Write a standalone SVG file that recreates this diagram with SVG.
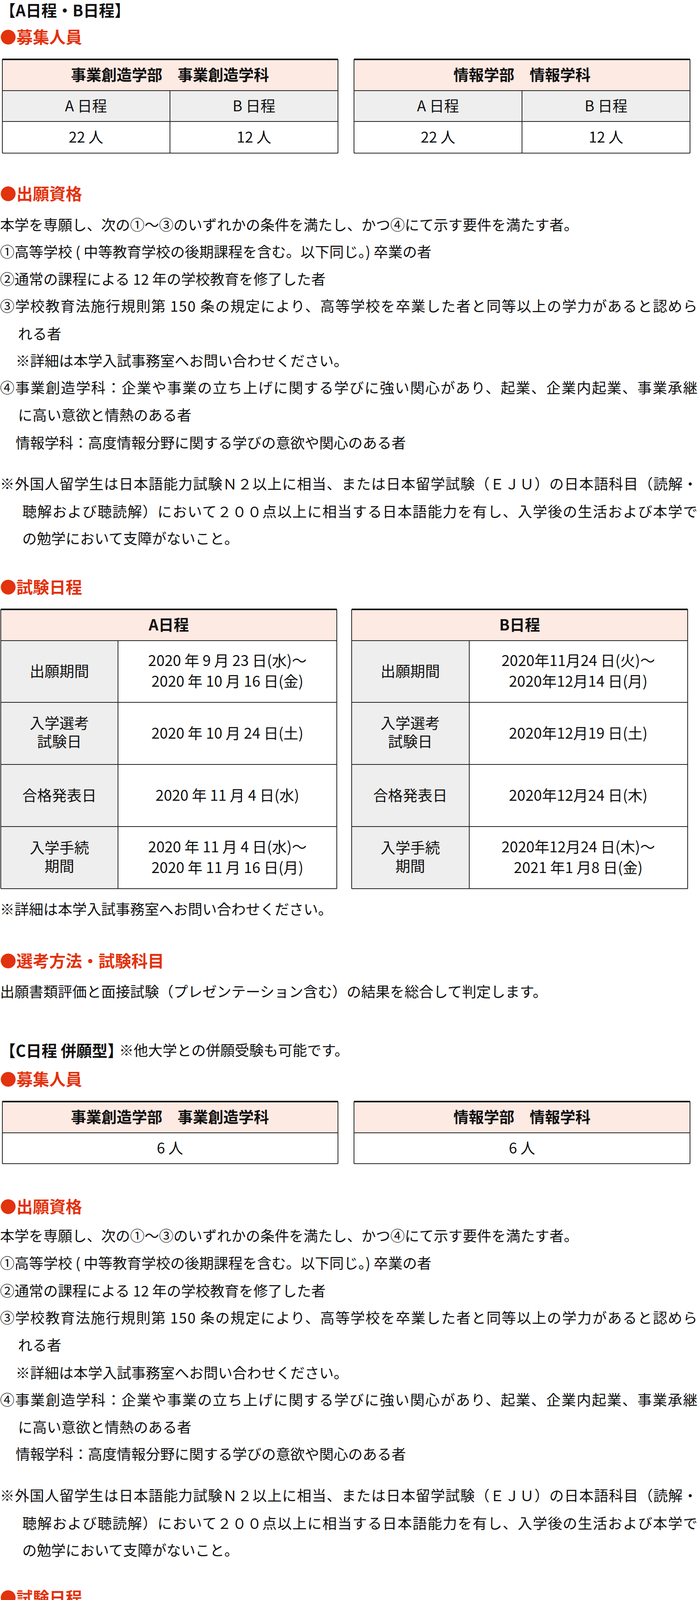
<svg xmlns="http://www.w3.org/2000/svg" width="1789" height="5073" viewBox="0 0 1789 5073">
<style>
text{font-family:"Noto Sans CJK JP","Noto Sans",sans-serif;fill:#111}
.t{font-size:37px}
.h{font-size:42px;font-weight:bold;fill:#E2320E}
.ti{font-size:40px;font-weight:bold}
.th{font-size:39px;font-weight:bold;text-anchor:middle}
.td{font-size:38px;text-anchor:middle}
.pk{fill:#FDEAE3}
.gr{fill:#EEEEEE}
.wh{fill:#FFFFFF}
.ln{stroke:#222;stroke-width:2;fill:none}
.tk{stroke:#111;stroke-width:4;fill:none}
</style>
<rect width="1789" height="5073" fill="#fff"/>

<g id="sectionAB-title"><text class="ti" x="0" y="42">【A日程・B日程】</text></g>

<g id="recruit-AB">
<text class="h" x="0" y="111">●募集人員</text>
<g id="tbl-biz">
<rect class="pk" x="6" y="152" width="859" height="80"/>
<rect class="gr" x="6" y="232" width="859" height="79"/>
<rect class="wh" x="6" y="311" width="859" height="81"/>
<path class="ln" d="M6 152V392M865 152V392M6 232H865M6 311H865M435 232V392M6 392H865"/>
<path class="tk" d="M6 152H865"/>
<text class="th" x="435" y="206">事業創造学部　事業創造学科</text>
<text class="td" x="220" y="285">A 日程</text><text class="td" x="650" y="285">B 日程</text>
<text class="td" x="220" y="365">22 人</text><text class="td" x="650" y="365">12 人</text>
</g>
<g id="tbl-info">
<rect class="pk" x="906" y="152" width="860" height="80"/>
<rect class="gr" x="906" y="232" width="860" height="79"/>
<rect class="wh" x="906" y="311" width="860" height="81"/>
<path class="ln" d="M906 152V392M1766 152V392M906 232H1766M906 311H1766M1336 232V392M906 392H1766"/>
<path class="tk" d="M906 152H1766"/>
<text class="th" x="1336" y="206">情報学部　情報学科</text>
<text class="td" x="1121" y="285">A 日程</text><text class="td" x="1551" y="285">B 日程</text>
<text class="td" x="1121" y="365">22 人</text><text class="td" x="1551" y="365">12 人</text>
</g>
</g>

<g id="qual-AB">
<text class="h" x="0" y="512">●出願資格</text>
<text class="t" x="0" y="590">本学を専願し、次の①～③のいずれかの条件を満たし、かつ④にて示す要件を満たす者。</text>
<text class="t" x="0" y="659">①高等学校 ( 中等教育学校の後期課程を含む。以下同じ。) 卒業の者</text>
<text class="t" x="0" y="729">②通常の課程による 12 年の学校教育を修了した者</text>
<text class="t" x="0" y="798" textLength="1785" lengthAdjust="spacing">③学校教育法施行規則第 150 条の規定により、高等学校を卒業した者と同等以上の学力があると認めら</text>
<text class="t" x="46" y="869">れる者</text>
<text class="t" x="40" y="938">※詳細は本学入試事務室へお問い合わせください。</text>
<text class="t" x="0" y="1007" textLength="1785" lengthAdjust="spacing">④事業創造学科：企業や事業の立ち上げに関する学びに強い関心があり、起業、企業内起業、事業承継</text>
<text class="t" x="46" y="1077">に高い意欲と情熱のある者</text>
<text class="t" x="40" y="1148">情報学科：高度情報分野に関する学びの意欲や関心のある者</text>
<text class="t" x="0" y="1253" textLength="1785" lengthAdjust="spacing">※外国人留学生は日本語能力試験Ｎ２以上に相当、または日本留学試験（ＥＪＵ）の日本語科目（読解・</text>
<text class="t" x="57" y="1324" textLength="1728" lengthAdjust="spacing">聴解および聴読解）において２００点以上に相当する日本語能力を有し、入学後の生活および本学で</text>
<text class="t" x="57" y="1393">の勉学において支障がないこと。</text>
</g>

<g id="schedule-AB">
<text class="h" x="0" y="1519">●試験日程</text>
<g id="tbl-A">
<rect class="pk" x="2" y="1560" width="860" height="80"/>
<rect class="gr" x="2" y="1640" width="300" height="635"/>
<rect class="wh" x="302" y="1640" width="560" height="635"/>
<path class="ln" d="M2 1560V2275M862 1560V2275M2 1640H862M2 1798H862M2 1957H862M2 2116H862M2 2275H862M302 1640V2275"/>
<path class="tk" d="M2 1560H862"/>
<text class="th" x="432" y="1614">A日程</text>
<text class="td" x="152" y="1732">出願期間</text>
<text class="td" x="582" y="1705">2020 年 9 月 23 日(水)～</text>
<text class="td" x="582" y="1758">2020 年 10 月 16 日(金)</text>
<text class="td" x="152" y="1865">入学選考</text>
<text class="td" x="152" y="1912">試験日</text>
<text class="td" x="582" y="1891">2020 年 10 月 24 日(土)</text>
<text class="td" x="152" y="2050">合格発表日</text>
<text class="td" x="582" y="2050">2020 年 11 月 4 日(水)</text>
<text class="td" x="152" y="2184">入学手続</text>
<text class="td" x="152" y="2231">期間</text>
<text class="td" x="582" y="2182">2020 年 11 月 4 日(水)～</text>
<text class="td" x="582" y="2235">2020 年 11 月 16 日(月)</text>
</g>
<g id="tbl-B">
<rect class="pk" x="900" y="1560" width="860" height="80"/>
<rect class="gr" x="900" y="1640" width="301" height="635"/>
<rect class="wh" x="1201" y="1640" width="559" height="635"/>
<path class="ln" d="M900 1560V2275M1760 1560V2275M900 1640H1760M900 1798H1760M900 1957H1760M900 2116H1760M900 2275H1760M1201 1640V2275"/>
<path class="tk" d="M900 1560H1760"/>
<text class="th" x="1330" y="1614">B日程</text>
<text class="td" x="1050" y="1732">出願期間</text>
<text class="td" x="1480" y="1705">2020年11月24 日(火)～</text>
<text class="td" x="1480" y="1758">2020年12月14 日(月)</text>
<text class="td" x="1050" y="1865">入学選考</text>
<text class="td" x="1050" y="1912">試験日</text>
<text class="td" x="1480" y="1891">2020年12月19 日(土)</text>
<text class="td" x="1050" y="2050">合格発表日</text>
<text class="td" x="1480" y="2050">2020年12月24 日(木)</text>
<text class="td" x="1050" y="2184">入学手続</text>
<text class="td" x="1050" y="2231">期間</text>
<text class="td" x="1480" y="2182">2020年12月24 日(木)～</text>
<text class="td" x="1480" y="2235">2021 年1 月8 日(金)</text>
</g>
<text class="t" x="0" y="2342">※詳細は本学入試事務室へお問い合わせください。</text>
</g>

<g id="method-AB">
<text class="h" x="0" y="2476">●選考方法・試験科目</text>
<text class="t" x="0" y="2553">出願書類評価と面接試験（プレゼンテーション含む）の結果を総合して判定します。</text>
</g>

<g id="sectionC-title"><text class="ti" x="0" y="2705">【C日程 併願型】</text><text class="t" x="305" y="2703">※他大学との併願受験も可能です。</text></g>

<g id="recruit-C">
<text class="h" x="0" y="2779">●募集人員</text>
<g id="tbl-biz-C">
<rect class="pk" x="6" y="2820" width="859" height="80"/>
<rect class="wh" x="6" y="2900" width="859" height="79"/>
<path class="ln" d="M6 2820V2979M865 2820V2979M6 2900H865M6 2979H865"/>
<path class="tk" d="M6 2820H865"/>
<text class="th" x="435" y="2874">事業創造学部　事業創造学科</text>
<text class="td" x="435" y="2953">6 人</text>
</g>
<g id="tbl-info-C">
<rect class="pk" x="906" y="2820" width="860" height="80"/>
<rect class="wh" x="906" y="2900" width="860" height="79"/>
<path class="ln" d="M906 2820V2979M1766 2820V2979M906 2900H1766M906 2979H1766"/>
<path class="tk" d="M906 2820H1766"/>
<text class="th" x="1336" y="2874">情報学部　情報学科</text>
<text class="td" x="1336" y="2953">6 人</text>
</g>
</g>

<g id="qual-C">
<text class="h" x="0" y="3105">●出願資格</text>
<text class="t" x="0" y="3178">本学を専願し、次の①～③のいずれかの条件を満たし、かつ④にて示す要件を満たす者。</text>
<text class="t" x="0" y="3248">①高等学校 ( 中等教育学校の後期課程を含む。以下同じ。) 卒業の者</text>
<text class="t" x="0" y="3319">②通常の課程による 12 年の学校教育を修了した者</text>
<text class="t" x="0" y="3388" textLength="1785" lengthAdjust="spacing">③学校教育法施行規則第 150 条の規定により、高等学校を卒業した者と同等以上の学力があると認めら</text>
<text class="t" x="46" y="3458">れる者</text>
<text class="t" x="40" y="3529">※詳細は本学入試事務室へお問い合わせください。</text>
<text class="t" x="0" y="3598" textLength="1785" lengthAdjust="spacing">④事業創造学科：企業や事業の立ち上げに関する学びに強い関心があり、起業、企業内起業、事業承継</text>
<text class="t" x="46" y="3668">に高い意欲と情熱のある者</text>
<text class="t" x="40" y="3737">情報学科：高度情報分野に関する学びの意欲や関心のある者</text>
<text class="t" x="0" y="3843" textLength="1785" lengthAdjust="spacing">※外国人留学生は日本語能力試験Ｎ２以上に相当、または日本留学試験（ＥＪＵ）の日本語科目（読解・</text>
<text class="t" x="57" y="3914" textLength="1728" lengthAdjust="spacing">聴解および聴読解）において２００点以上に相当する日本語能力を有し、入学後の生活および本学で</text>
<text class="t" x="57" y="3983">の勉学において支障がないこと。</text>
</g>

<g id="schedule-C">
<text class="h" x="0" y="4106">●試験日程</text>
<g id="tbl-C">
<rect class="gr" x="3" y="4149" width="570" height="401"/>
<rect class="wh" x="573" y="4149" width="1211" height="401"/>
<path class="ln" d="M3 4149V4550M1784 4149V4550M3 4249H1784M3 4349H1784M3 4450H1784M3 4550H1784M573 4149V4550"/>
<path class="tk" d="M3 4149H1784"/>
<text class="td" x="288" y="4212">出願期間</text>
<text class="td" x="1179" y="4212">2021 年2月8 日(月)～2021 年3月1 日(月)</text>
<text class="td" x="288" y="4312">入学選考試験日</text>
<text class="td" x="1179" y="4312">2021 年3月7 日(日)</text>
<text class="td" x="288" y="4413">合格発表日</text>
<text class="td" x="1179" y="4413">2021 年3月15 日(月)</text>
<text class="td" x="288" y="4513">入学手続期間</text>
<text class="td" x="1179" y="4513">2021 年3月15 日(月)～2021 年3月22 日(月)</text>
</g>
<text class="t" x="0" y="4617">※詳細は本学入試事務室へお問い合わせください。</text>
</g>

<g id="method-C">
<text class="h" x="0" y="4737">●選考方法・試験科目</text>
<text class="t" x="0" y="4814">出願書類評価および面接試験（プレゼンテーション含む）の結果を総合して判定します。</text>
</g>

<g id="venue-C">
<text class="h" x="0" y="4928">●試験会場</text>
<text class="t" x="0" y="5003" textLength="1785" lengthAdjust="spacing">試験会場は、本学の他に地方試験会場を設ける予定です。試験会場は、確定した 2021 年度入試情報と共</text>
<text class="t" x="0" y="5062">に 7 月中旬に公開予定の『2021 年度　学生募集要項』をご確認ください。</text>
</g>
</svg>
